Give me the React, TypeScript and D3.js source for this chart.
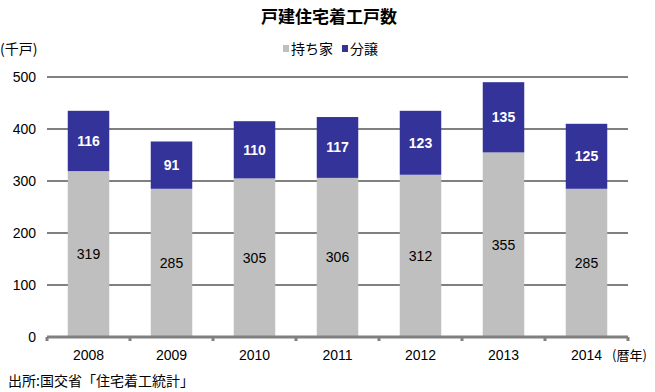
import { useEffect, useRef } from "react";
import * as d3 from "d3";

const years = ["2008", "2009", "2010", "2011", "2012", "2013", "2014"];
const owned = [319, 285, 305, 306, 312, 355, 285];
const forSale = [116, 91, 110, 117, 123, 135, 125];
const yTicks = [0, 100, 200, 300, 400, 500];

const seriesNames = ["持ち家", "分譲"];
const colors = ["#bfbfbf", "#333399"];

const FONT = '"Liberation Sans", Arial, sans-serif';
const JP = '"Noto Sans CJK JP", sans-serif';

export default function App() {
  const ref = useRef<SVGSVGElement>(null);

  useEffect(() => {
    const svg = d3.select(ref.current);
    const width = 655;
    const height = 392;
    svg.selectAll("*").remove();
    svg.attr("viewBox", `0 0 ${width} ${height}`);

    const left = 47;
    const right = 628;
    const top = 77;
    const bottom = 337;

    const x = d3.scaleBand().domain(years).range([left, right]).paddingInner(0.5).paddingOuter(0.25);
    const y = d3.scaleLinear().domain([0, 500]).range([bottom, top]);

    // grid
    svg
      .append("g")
      .selectAll("line")
      .data(yTicks.filter((t) => t > 0))
      .join("line")
      .attr("x1", left)
      .attr("x2", right)
      .attr("y1", (d) => y(d))
      .attr("y2", (d) => y(d))
      .attr("stroke", "#808080")
      .attr("stroke-width", 2);

    // y labels
    svg
      .append("g")
      .selectAll("text")
      .data(yTicks)
      .join("text")
      .attr("x", 36)
      .attr("y", (d) => y(d))
      .attr("dy", "0.35em")
      .attr("text-anchor", "end")
      .style("font-family", FONT)
      .style("font-size", "14px")
      .attr("fill", "#000")
      .text((d) => d);

    const rows = years.map((yr, i) => ({ yr, a: owned[i], b: forSale[i] }));

    const g = svg.append("g");
    g.selectAll("rect.own")
      .data(rows)
      .join("rect")
      .attr("class", "own")
      .attr("x", (d) => x(d.yr)!)
      .attr("width", x.bandwidth())
      .attr("y", (d) => y(d.a))
      .attr("height", (d) => y(0) - y(d.a))
      .attr("fill", colors[0]);
    g.selectAll("rect.sale")
      .data(rows)
      .join("rect")
      .attr("class", "sale")
      .attr("x", (d) => x(d.yr)!)
      .attr("width", x.bandwidth())
      .attr("y", (d) => y(d.a + d.b))
      .attr("height", (d) => y(d.a) - y(d.a + d.b))
      .attr("fill", colors[1]);

    g.selectAll("text.own")
      .data(rows)
      .join("text")
      .attr("class", "own")
      .attr("x", (d) => x(d.yr)! + x.bandwidth() / 2)
      .attr("y", (d) => y(d.a / 2))
      .attr("dy", "0.35em")
      .attr("text-anchor", "middle")
      .style("font-family", FONT)
      .style("font-size", "14px")
      .attr("fill", "#000")
      .text((d) => d.a);

    g.selectAll("text.sale")
      .data(rows)
      .join("text")
      .attr("class", "sale")
      .attr("x", (d) => x(d.yr)! + x.bandwidth() / 2)
      .attr("y", (d) => y(d.a + d.b / 2))
      .attr("dy", "0.35em")
      .attr("text-anchor", "middle")
      .style("font-family", FONT)
      .style("font-size", "14px")
      .style("font-weight", "bold")
      .attr("fill", "#fff")
      .text((d) => d.b);

    // x axis
    svg
      .append("line")
      .attr("x1", left)
      .attr("x2", right)
      .attr("y1", bottom)
      .attr("y2", bottom)
      .attr("stroke", "#808080")
      .attr("stroke-width", 3);
    const step = x.step();
    svg
      .append("g")
      .selectAll("line")
      .data(d3.range(years.length + 1))
      .join("line")
      .attr("x1", (i) => left + i * step)
      .attr("x2", (i) => left + i * step)
      .attr("y1", bottom)
      .attr("y2", bottom + 4)
      .attr("stroke", "#808080")
      .attr("stroke-width", 3);

    svg
      .append("g")
      .selectAll("text")
      .data(years)
      .join("text")
      .attr("x", (d) => x(d)! + x.bandwidth() / 2)
      .attr("y", 355)
      .attr("dy", "0.35em")
      .attr("text-anchor", "middle")
      .style("font-family", FONT)
      .style("font-size", "14px")
      .text((d) => d);

    svg
      .append("text")
      .attr("x", 612)
      .attr("y", 355)
      .attr("dy", "0.35em")
      .style("font-family", JP)
      .style("font-size", "13px")
      .text("(暦年)");

    // title
    svg
      .append("text")
      .attr("x", 329)
      .attr("y", 17)
      .attr("dy", "0.35em")
      .attr("text-anchor", "middle")
      .style("font-family", JP)
      .style("font-size", "17px")
      .style("font-weight", "bold")
      .text("戸建住宅着工戸数");

    svg
      .append("text")
      .attr("x", 0)
      .attr("y", 49)
      .attr("dy", "0.35em")
      .style("font-family", JP)
      .style("font-size", "14px")
      .text("(千戸)");

    // legend
    const legend = svg.append("g");
    const lx = [283, 342];
    seriesNames.forEach((name, i) => {
      legend
        .append("rect")
        .attr("x", lx[i])
        .attr("y", 45)
        .attr("width", 6)
        .attr("height", 7)
        .attr("fill", colors[i]);
      legend
        .append("text")
        .attr("x", lx[i] + 8)
        .attr("y", 49)
        .attr("dy", "0.35em")
        .style("font-family", JP)
        .style("font-size", "14px")
        .text(name);
    });

    svg
      .append("text")
      .attr("x", 8)
      .attr("y", 381)
      .attr("dy", "0.35em")
      .style("font-family", JP)
      .style("font-size", "14px")
      .text("出所:国交省「住宅着工統計」");
  }, []);

  return (
    <svg
      ref={ref}
      width={655}
      height={392}
      style={{ position: "absolute", left: 0, top: 0 }}
      role="img"
      aria-label="戸建住宅着工戸数"
    />
  );
}
